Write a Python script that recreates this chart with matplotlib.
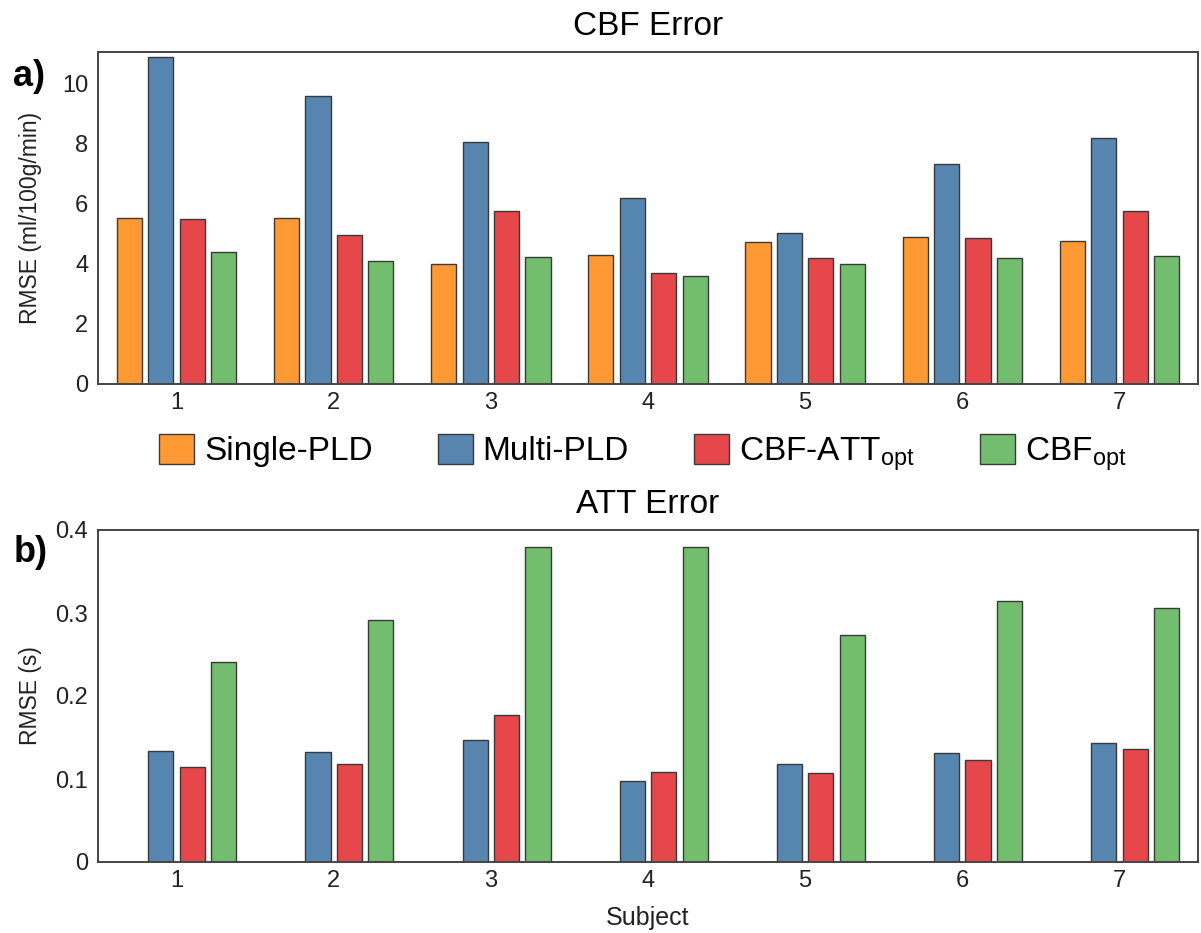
import numpy as np
import matplotlib
matplotlib.use("Agg")
import matplotlib.pyplot as plt

plt.rcParams["font.family"] = ["Liberation Sans", "DejaVu Sans"]
plt.rcParams["mathtext.fontset"] = "custom"
plt.rcParams["mathtext.rm"] = "Liberation Sans"
plt.rcParams["mathtext.it"] = "Liberation Sans"

subjects = ["1", "2", "3", "4", "5", "6", "7"]
methods = ["Single-PLD", "Multi-PLD", "CBF-ATT$_{\\mathrm{opt}}$", "CBF$_{\\mathrm{opt}}$"]
colors = ["#ff9933", "#5787b0", "#e6474a", "#72be6e"]

# CBF RMSE (ml/100g/min)
cbf_single = [5.52, 5.52, 3.99, 4.29, 4.72, 4.89, 4.76]
cbf_multi = [10.85, 9.57, 8.05, 6.18, 5.02, 7.30, 8.18]
cbf_attopt = [5.48, 4.95, 5.75, 3.70, 4.19, 4.86, 5.74]
cbf_cbfopt = [4.37, 4.10, 4.21, 3.60, 3.98, 4.17, 4.25]

# ATT RMSE (s) -- no single-PLD estimate
att_multi = [0.134, 0.132, 0.147, 0.098, 0.118, 0.131, 0.143]
att_attopt = [0.114, 0.118, 0.177, 0.108, 0.107, 0.123, 0.136]
att_cbfopt = [0.241, 0.292, 0.380, 0.380, 0.273, 0.315, 0.306]

W = 0.16
OFF = [-0.3, -0.1, 0.1, 0.3]
EDGE = dict(edgecolor="#3a3a3a", linewidth=1.0)

fig = plt.figure(figsize=(12.01, 9.33), dpi=100)
ax1 = fig.add_axes([98 / 1201, (933 - 384) / 933, 1100 / 1201, 332 / 933])
ax2 = fig.add_axes([98 / 1201, (933 - 862) / 933, 1100 / 1201, 332 / 933])
x = np.arange(len(subjects))

handles = []
for off, vals, col, lab in zip(OFF, [cbf_single, cbf_multi, cbf_attopt, cbf_cbfopt], colors, methods):
    h = ax1.bar(x + off, vals, W, color=col, label=lab, **EDGE)
    handles.append(h)
for off, vals, col in zip(OFF[1:], [att_multi, att_attopt, att_cbfopt], colors[1:]):
    ax2.bar(x + off, vals, W, color=col, **EDGE)

for ax in (ax1, ax2):
    ax.set_xlim(-0.5, len(subjects) - 0.5)
    ax.set_xticks(x)
    ax.set_xticklabels(subjects)
    ax.tick_params(length=0, labelsize=17, colors="#222222")
    ax.tick_params(axis="x", pad=6)
    ax.tick_params(axis="y", pad=7)
    for s in ax.spines.values():
        s.set_color("#444444"); s.set_linewidth(1.4)
    ax.yaxis.set_label_coords(-0.051, 0.5)

ax1.set_ylim(0, 11.03)
ax1.set_yticks([0, 2, 4, 6, 8, 10])
ax1.set_ylabel("RMSE (ml/100g/min)", fontsize=16.5, color="#222222")
ax1.set_title("CBF Error", fontsize=24, pad=12)

ax2.set_ylim(0, 0.4)
ax2.set_yticks([0, 0.1, 0.2, 0.3, 0.4])
ax2.set_yticklabels(["0", "0.1", "0.2", "0.3", "0.4"])
ax2.set_ylabel("RMSE (s)", fontsize=16.5, color="#222222")
ax2.set_xlabel("Subject", fontsize=18, color="#222222", labelpad=10)
ax2.set_title("ATT Error", fontsize=24, pad=12)

fig.legend(handles=handles, labels=methods, loc="center", ncol=4,
           bbox_to_anchor=(0.535, 0.514), frameon=False, fontsize=24,
           handlelength=1.05, handleheight=1.0, handletextpad=0.3,
           columnspacing=1.95)

fig.text(0.011, 0.9185, "a)", fontsize=26, fontweight="bold", va="center")
fig.text(0.011, 0.4073, "b)", fontsize=26, fontweight="bold", va="center")

fig.savefig("out.png", dpi=100)
